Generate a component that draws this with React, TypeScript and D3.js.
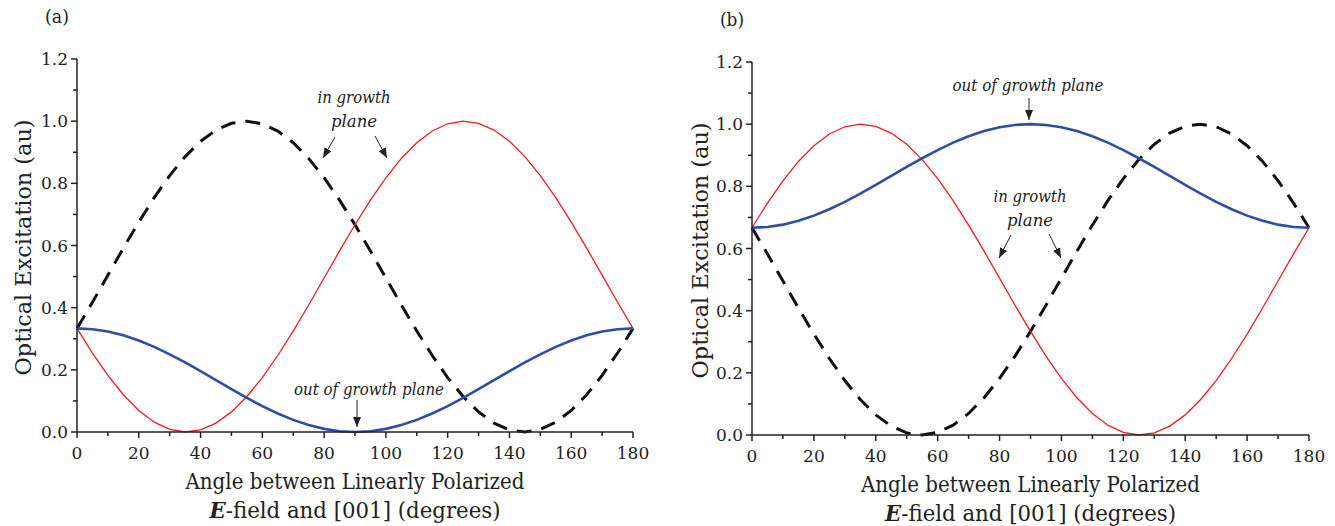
import React from "react";
import * as d3 from "d3";

const angles = [0,5,10,15,20,25,30,35,40,45,50,55,60,65,70,75,80,85,90,95,100,105,110,115,120,125,130,135,140,145,150,155,160,165,170,175,180];

const redA = [0.3333,0.2540,0.1821,0.1199,0.0693,0.0317,0.0084,0.0000,0.0068,0.0286,0.0647,0.1141,0.1751,0.2461,0.3248,0.4086,0.4955,0.5825,0.6667,0.7461,0.8179,0.8801,0.9307,0.9683,0.9916,1.0000,0.9932,0.9714,0.9353,0.8859,0.8249,0.7539,0.6753,0.5914,0.5046,0.4175,0.3333];
const dashA = [0.3333,0.4175,0.5046,0.5914,0.6753,0.7539,0.8249,0.8859,0.9353,0.9714,0.9932,1.0000,0.9916,0.9683,0.9307,0.8801,0.8179,0.7461,0.6667,0.5825,0.4955,0.4086,0.3248,0.2461,0.1751,0.1141,0.0647,0.0286,0.0068,0.0000,0.0084,0.0317,0.0693,0.1199,0.1821,0.2540,0.3333];
const blueA = [0.3333,0.3308,0.3233,0.3110,0.2943,0.2738,0.2500,0.2237,0.1956,0.1667,0.1377,0.1097,0.0833,0.0595,0.0390,0.0223,0.0101,0.0025,0.0000,0.0025,0.0101,0.0223,0.0390,0.0595,0.0833,0.1097,0.1377,0.1667,0.1956,0.2237,0.2500,0.2738,0.2943,0.3110,0.3233,0.3308,0.3333];

const redB = [0.6667,0.7461,0.8179,0.8801,0.9307,0.9683,0.9916,1.0000,0.9932,0.9714,0.9353,0.8859,0.8249,0.7539,0.6753,0.5914,0.5046,0.4175,0.3333,0.2539,0.1821,0.1199,0.0693,0.0317,0.0084,0.0000,0.0068,0.0286,0.0647,0.1141,0.1751,0.2461,0.3248,0.4086,0.4955,0.5825,0.6667];
const dashB = [0.6667,0.5825,0.4955,0.4086,0.3248,0.2461,0.1751,0.1141,0.0647,0.0286,0.0068,0.0000,0.0084,0.0317,0.0693,0.1199,0.1821,0.2539,0.3333,0.4175,0.5046,0.5914,0.6753,0.7539,0.8249,0.8859,0.9353,0.9714,0.9932,1.0000,0.9916,0.9683,0.9307,0.8801,0.8179,0.7461,0.6667];
const blueB = [0.6667,0.6692,0.6767,0.6890,0.7057,0.7262,0.7500,0.7763,0.8044,0.8333,0.8623,0.8903,0.9167,0.9405,0.9610,0.9777,0.9899,0.9975,1.0000,0.9975,0.9899,0.9777,0.9610,0.9405,0.9167,0.8903,0.8623,0.8333,0.8044,0.7763,0.7500,0.7262,0.7057,0.6890,0.6767,0.6692,0.6667];

const xTicks = [0,20,40,60,80,100,120,140,160,180];
const xMinor = [10,30,50,70,90,110,130,150,170];
const yTicks = [0,0.2,0.4,0.6,0.8,1.0,1.2];
const yMinor = [0.1,0.3,0.5,0.7,0.9,1.1];

const FONT = "'DejaVu Serif', serif";
const RED = "#ee1c24";
const BLUE = "#2e4ea6";

type Ann = { lines: string[]; x: number; y: number; w: number[]; arrows: [number, number, number, number][] };

const txt = (size: number, italic = false): React.CSSProperties => ({
  fontFamily: FONT,
  fontSize: size + "px",
  fontStyle: italic ? "italic" : "normal",
});

function Panel({ label, x0, x1, y0, y1, red, dash, blue, ylabelX, anns }:
  { label: string; x0: number; x1: number; y0: number; y1: number; red: number[]; dash: number[]; blue: number[]; ylabelX: number; anns: Ann[] }) {
  const x = d3.scaleLinear().domain([0, 180]).range([x0, x1]);
  const y = d3.scaleLinear().domain([0, 1.2]).range([y0, y1]);
  const line = (vals: number[]) =>
    d3.line<number>().x((_, i) => x(angles[i])).y((v) => y(v))(vals) || "";
  const cx = (x0 + x1) / 2;
  return (
    <g>
      <text x={x0 - 20} y={y1 - 36} style={txt(19)} textAnchor="middle" fill="#222"
        textLength={24} lengthAdjust="spacingAndGlyphs">{label}</text>
      <path d={line(dash)} fill="none" stroke="#111" strokeWidth={3} strokeDasharray="15 10" />
      <path d={line(red)} fill="none" stroke={RED} strokeWidth={1.3} />
      <path d={line(blue)} fill="none" stroke={BLUE} strokeWidth={2.6} />
      <line x1={x0} x2={x1} y1={y0} y2={y0} stroke="#222" strokeWidth={1.5} />
      <line x1={x0} x2={x0} y1={y0} y2={y1} stroke="#222" strokeWidth={1.5} />
      {xTicks.map((t) => (
        <g key={"xt" + t}>
          <line x1={x(t)} x2={x(t)} y1={y0} y2={y0 + 6} stroke="#222" strokeWidth={1.5} />
          <text x={x(t)} y={y0 + 27} style={txt(17)} textAnchor="middle" fill="#222">{t}</text>
        </g>
      ))}
      {xMinor.map((t) => (
        <line key={"xm" + t} x1={x(t)} x2={x(t)} y1={y0} y2={y0 + 4} stroke="#222" strokeWidth={1.5} />
      ))}
      {yTicks.map((t) => (
        <g key={"yt" + t}>
          <line x1={x0 - 6} x2={x0} y1={y(t)} y2={y(t)} stroke="#222" strokeWidth={1.5} />
          <text x={x0 - 9} y={y(t) + 6} style={txt(17)} textAnchor="end" fill="#222">{t.toFixed(1)}</text>
        </g>
      ))}
      {yMinor.map((t) => (
        <line key={"ym" + t} x1={x0 - 4} x2={x0} y1={y(t)} y2={y(t)} stroke="#222" strokeWidth={1.5} />
      ))}
      <text transform={`translate(${ylabelX},${(y0 + y1) / 2 + 2}) rotate(-90)`} style={txt(23)} textAnchor="middle" fill="#222"
        textLength={256} lengthAdjust="spacingAndGlyphs">Optical Excitation (au)</text>
      <text x={cx} y={y0 + 57} style={txt(22)} textAnchor="middle" fill="#222"
        textLength={339} lengthAdjust="spacingAndGlyphs">Angle between Linearly Polarized</text>
      <text x={cx} y={y0 + 86} style={txt(22)} textAnchor="middle" fill="#222"
        textLength={291} lengthAdjust="spacingAndGlyphs">
        <tspan fontWeight="bold" fontStyle="italic">E</tspan>-field and [001] (degrees)
      </text>
      {anns.map((a, i) => (
        <g key={"a" + i}>
          {a.lines.map((l, j) => (
            <text key={j} x={a.x} y={a.y + j * 24} style={txt(16, true)} textAnchor="middle" fill="#222"
              textLength={a.w[j]} lengthAdjust="spacingAndGlyphs">{l}</text>
          ))}
          {a.arrows.map((ar, k) => (
            <line key={k} x1={ar[0]} y1={ar[1]} x2={ar[2]} y2={ar[3]} stroke="#222" strokeWidth={1} markerEnd="url(#arrowhead)" />
          ))}
        </g>
      ))}
    </g>
  );
}

export default function App() {
  return (
    <svg width={1335} height={526} style={{ display: "block", position: "absolute", left: 0, top: 0 }}>
      <defs>
        <marker id="arrowhead" viewBox="0 0 10 10" refX={10} refY={5} markerWidth={10} markerHeight={10} markerUnits="userSpaceOnUse" orient="auto">
          <path d="M0,1 L10,5 L0,9 Z" fill="#222" />
        </marker>
      </defs>
      <rect width={1335} height={526} fill="#fff" />
      <Panel label="(a)" x0={77} x1={633} y0={432} y1={59} red={redA} dash={dashA} blue={blueA} ylabelX={31}
        anns={[
          { lines: ["in growth", "plane"], x: 354, y: 103, w: [73, 46], arrows: [[335, 137, 323, 158], [375, 136, 387, 158]] },
          { lines: ["out of growth plane"], x: 369, y: 395, w: [150], arrows: [[357, 400, 357, 427]] },
        ]} />
      <Panel label="(b)" x0={752} x1={1309} y0={435} y1={62} red={redB} dash={dashB} blue={blueB} ylabelX={708}
        anns={[
          { lines: ["out of growth plane"], x: 1028, y: 91, w: [151], arrows: [[1029, 98, 1029, 120]] },
          { lines: ["in growth", "plane"], x: 1030, y: 202, w: [73, 46], arrows: [[1011, 235, 999, 258], [1049, 234, 1061, 258]] },
        ]} />
    </svg>
  );
}
